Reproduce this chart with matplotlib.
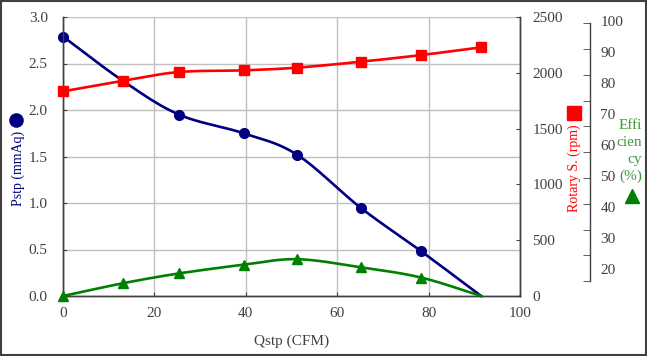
import numpy as np
import matplotlib
matplotlib.use("Agg")
import matplotlib.pyplot as plt
from matplotlib.patches import Rectangle

# ---- data ----
qstp = [0, 13.2, 25.4, 39.5, 51.2, 65.1, 78.4, 91.5]
pstp = [2.79, 2.31, 1.95, 1.75, 1.52, 0.95, 0.48, 0.0]
rpm = [1834, 1929, 2007, 2022, 2046, 2099, 2159, 2228]
eff = [0.0, 4.6, 8.1, 11.2, 13.2, 10.3, 6.6, 0.0]

x_ticks = [0, 20, 40, 60, 80, 100]
p_ticks = [0.0, 0.5, 1.0, 1.5, 2.0, 2.5, 3.0]
r_ticks = [0, 500, 1000, 1500, 2000, 2500]
e_ticks = [20, 30, 40, 50, 60, 70, 80, 90, 100]

FONT = "Liberation Serif"
plt.rcParams["font.family"] = [FONT, "DejaVu Serif"]

NAVY = "#000080"
RED = "#FF0000"
GREEN = "#008000"
TXTGREEN = "#3c9a3c"
TICKC = "#404040"


def smooth(xs, ys, n=20):
    """Catmull-Rom rendering of a polyline (smoothed line style)."""
    xs = np.asarray(xs, float)
    ys = np.asarray(ys, float)
    px = np.concatenate([[2 * xs[0] - xs[1]], xs, [2 * xs[-1] - xs[-2]]])
    py = np.concatenate([[2 * ys[0] - ys[1]], ys, [2 * ys[-1] - ys[-2]]])
    ox, oy = [], []
    t = np.linspace(0, 1, n, endpoint=False)
    for i in range(1, len(px) - 2):
        for P, out in ((px[i - 1:i + 3], ox), (py[i - 1:i + 3], oy)):
            a, b, c, d = P
            out.extend(0.5 * ((2 * b) + (-a + c) * t + (2 * a - 5 * b + 4 * c - d) * t ** 2
                              + (-a + 3 * b - 3 * c + d) * t ** 3))
    ox.append(xs[-1])
    oy.append(ys[-1])
    return np.array(ox), np.array(oy)


W, H = 647, 356
fig = plt.figure(figsize=(W / 100, H / 100), dpi=100)

L, R, T, B = 63, 520, 17, 296
pos = [L / W, 1 - B / H, (R - L) / W, (B - T) / H]

ax = fig.add_axes(pos)
ax_r = ax.twinx()
ax_e = fig.add_axes(pos, frameon=False)  # hidden efficiency scale
ax_e.set_axis_off()

# efficiency display axis
ax3 = fig.add_axes([590 / W, pos[1], 0.002, pos[3]])
ax3.patch.set_visible(False)

ax.set_xlim(0, 100)
ax.set_ylim(0, 3.0)
ax_r.set_ylim(0, 2500)
ax_e.set_xlim(0, 100)
ax_e.set_ylim(0, 100)

# grid
ax.set_xticks(x_ticks)
ax.set_yticks(p_ticks)
ax.set_xticklabels([str(v) for v in x_ticks])
ax.set_yticklabels([f"{v:.1f}" for v in p_ticks])
ax.grid(True, color="#c0c0c0", linewidth=1.0)
ax.set_axisbelow(True)

for a in (ax, ax_r):
    for s in a.spines.values():
        s.set_color("#404040")
        s.set_linewidth(1.0)
ax.spines["top"].set_visible(False)
ax_r.spines["top"].set_visible(False)

ax.tick_params(axis="both", direction="in", length=3, colors=TICKC,
               labelsize=11, labelcolor=TICKC)
ax.tick_params(axis="x", pad=8)
ax.tick_params(axis="y", pad=11)
ax_r.set_yticks(r_ticks)
ax_r.set_yticklabels([str(v) for v in r_ticks])
ax_r.tick_params(axis="y", direction="in", length=3, colors=TICKC,
                 labelsize=11, labelcolor=TICKC, pad=9)

# lines
sx, sy = smooth(qstp, pstp)
ax.plot(sx, sy, color=NAVY, lw=1.9, zorder=3, clip_on=False)
ax.plot(qstp[:-1], pstp[:-1], "o", color=NAVY, ms=7, zorder=4, clip_on=False)

sx, sy = smooth(qstp, rpm)
ax_r.plot(sx, sy, color=RED, lw=1.9, zorder=3, clip_on=False)
ax_r.plot(qstp, rpm, "s", color=RED, ms=7.5, zorder=4, clip_on=False)

sx, sy = smooth(qstp, eff)
ax_e.plot(sx, sy, color=GREEN, lw=1.9, zorder=3, clip_on=False)
ax_e.plot(qstp[:-1], eff[:-1], "^", color=GREEN, ms=7.5, zorder=4, clip_on=False)

# third (efficiency) axis display
ax3.set_ylim(11.3, 101.3)
ax3.set_xticks([])
for side in ("top", "bottom", "right"):
    ax3.spines[side].set_visible(False)
ax3.spines["left"].set_bounds(16.1, 99.3)
ax3.spines["left"].set_color("#404040")
ax3.spines["left"].set_linewidth(1.0)
ax3.yaxis.set_ticks_position("left")
ax3.set_yticks(e_ticks)
ax3.set_yticklabels([str(v) for v in e_ticks])
ax3.tick_params(axis="y", which="major", left=False, right=False,
                length=0, labelleft=False, labelright=True, pad=6.5,
                labelsize=11, labelcolor=TICKC)
ax3.set_yticks(np.linspace(16.1, 99.3, 11), minor=True)
ax3.tick_params(axis="y", which="minor", left=True, right=False,
                direction="out", length=5, color="#404040")

# axis labels
fig.text(292 / W, 1 - 341 / H, "Qstp (CFM)", ha="center", va="center",
         fontsize=11, color=TICKC)
fig.text(18 / W, 1 - 168 / H, "Pstp (mmAq)", ha="center", va="center",
         rotation=90, fontsize=10, color=NAVY)
fig.text(574 / W, 1 - 168 / H, "Rotary S. (rpm)", ha="center", va="center",
         rotation=90, fontsize=10, color=RED)
fig.text(642 / W, 1 - 151 / H, "Effi\ncien\ncy\n(%)", ha="right", va="center",
         fontsize=11, color=TXTGREEN, linespacing=1.4)

# legend-like glyphs
fig.lines.append(plt.Line2D([16 / W], [1 - 120 / H], marker="o", color=NAVY,
                            ms=9.5, transform=fig.transFigure))
fig.lines.append(plt.Line2D([574 / W], [1 - 113 / H], marker="s", color=RED,
                            ms=9.5, transform=fig.transFigure))
fig.lines.append(plt.Line2D([632 / W], [1 - 196 / H], marker="^", color=GREEN,
                            ms=9.5, transform=fig.transFigure))

# outer frame
fig.patches.append(Rectangle((0.001, 0.002), 0.997, 0.996, fill=False,
                             edgecolor="#404040", linewidth=1.5,
                             transform=fig.transFigure))

fig.savefig("out.png", dpi=100)
